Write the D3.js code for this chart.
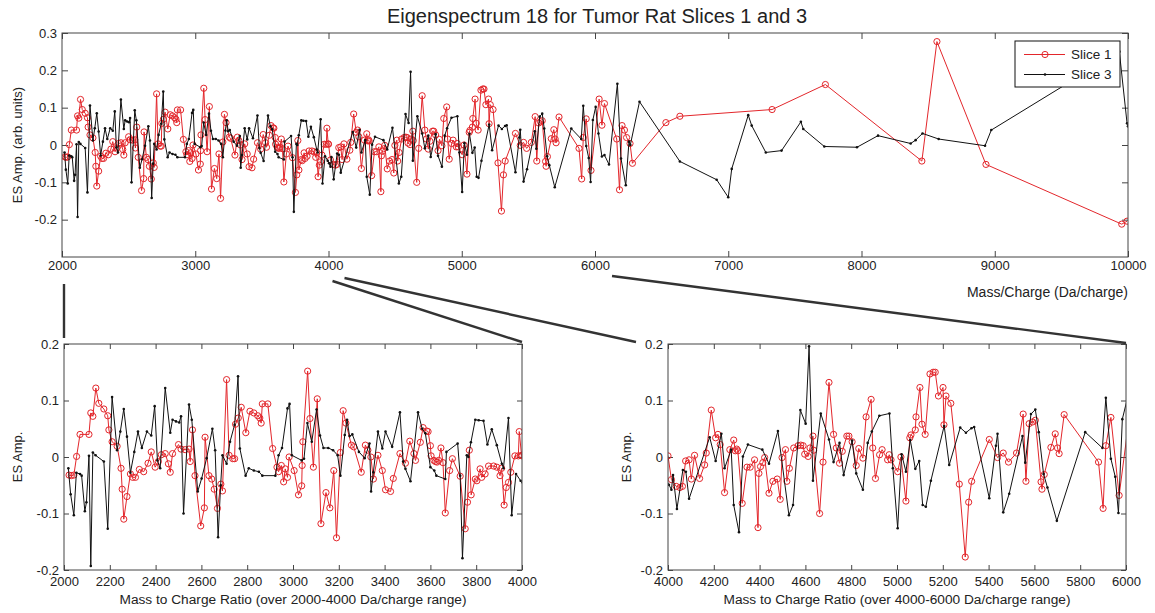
<!DOCTYPE html>
<html>
<head>
<meta charset="utf-8">
<script src="https://cdn.jsdelivr.net/npm/d3@7"></script>
<style>
  body { margin: 0; background: #fff; }
  text { font-family: Arial, "Liberation Sans", Helvetica, sans-serif; fill: #222; }
  .tick line { stroke: #444; }
</style>
</head>
<body>
<div id="chart"></div>
<script>
// Slice 1 (red, circles)
const slice1Mz = [2022,2032,2043,2055,2070,2109,2117,2126,2139,2152,2174,2191,2196,2210,2232,2249,2254,2261,2275,2290,
  2300,2312,2329,2348,2367,2381,2398,2412,2425,2442,2456,2464,2474,2500,2511,2529,2546,2551,2561,2572,
  2597,2613,2616,2633,2645,2656,2670,2685,2692,2710,2721,2737,2745,2749,2761,2774,2794,2812,2829,2846,
  2855,2861,2866,2890,2911,2930,2937,2949,2959,2966,2976,2983,3005,3024,3038,3040,3043,3064,3074,3089,
  3106,3122,3144,3161,3178,3190,3207,3219,3231,3255,3265,3298,3316,3327,3340,3351,3371,3390,3404,3426,
  3438,3467,3491,3510,3528,3535,3556,3568,3584,3590,3600,3603,3615,3622,3629,3636,3646,3655,3665,3684,
  3696,3730,3752,3762,3770,3778,3796,3803,3817,3824,3839,3854,3876,3890,3904,3911,3922,3931,3941,3951,
  3969,3984,3988,3998,
  4000,4015,4036,4052,4063,4077,4092,4102,4116,4138,4160,4167,4189,4208,4218,4228,4247,4270,4287,4294,
  4300,4305,4324,4345,4359,4378,4393,4397,4404,4414,4422,4441,4458,4477,4490,4498,4513,4519,4530,4549,
  4568,4580,4590,4597,4612,4620,4633,4636,4662,4677,4703,4723,4735,4749,4761,4781,4790,4804,4822,4833,
  4851,4865,4887,4894,4906,4924,4935,4959,4966,4974,5003,5017,5039,5056,5061,5080,5083,5100,5109,5123,
  5144,5158,5167,5181,5201,5205,5214,5235,5272,5298,5313,5326,5403,5439,5464,5487,5522,5551,5563,5577,
  5592,5604,5629,5633,5643,5672,5691,5701,5708,5730,5880,5900,5912,5934,5970,
  6031,6052,6071,6163,6184,6203,6221,6237,6263,6281,6532,6637,7329,7729,8453,8566,8934,9953,9993];
const slice1Amp = [-0.032,-0.033,-0.032,0.001,0.040,0.040,0.078,0.072,0.122,0.095,0.085,0.073,0.048,0.027,0.019,-0.020,-0.057,-0.110,-0.070,-0.030,
  -0.036,-0.036,-0.022,-0.026,-0.011,0.009,-0.018,-0.008,0.004,0.006,-0.012,-0.027,0.006,0.022,0.014,0.013,0.014,-0.008,0.048,-0.033,
  -0.122,-0.090,0.035,-0.033,-0.039,-0.057,-0.091,-0.048,-0.060,0.137,0.003,-0.003,-0.003,0.058,0.069,0.088,0.043,0.081,0.078,0.073,
  0.069,0.060,0.094,0.094,0.015,-0.018,-0.026,-0.015,-0.044,-0.021,-0.036,0.000,-0.024,-0.067,-0.051,-0.015,0.027,0.152,0.068,-0.018,
  0.103,-0.118,-0.063,-0.090,-0.024,-0.143,0.008,0.082,0.060,0.021,0.018,-0.027,0.021,0.012,0.000,-0.039,0.003,-0.024,-0.058,-0.061,
  -0.038,0.006,-0.011,0.028,0.006,-0.006,0.026,0.052,0.046,0.045,0.020,0.002,-0.006,-0.008,-0.009,-0.006,0.016,-0.010,-0.099,-0.024,
  -0.003,-0.034,-0.127,-0.080,0.012,-0.067,-0.039,-0.042,-0.021,-0.036,-0.030,-0.016,-0.016,-0.018,-0.033,-0.020,-0.085,-0.054,-0.045,-0.027,
  0.002,0.002,0.045,0.003,
  0.002,-0.040,-0.052,-0.054,-0.052,-0.007,-0.005,-0.039,0.003,-0.038,-0.014,0.007,0.083,0.034,0.040,0.022,-0.063,0.013,0.030,0.011,
  0.014,0.011,-0.082,-0.018,-0.018,-0.005,-0.125,-0.029,-0.017,-0.010,-0.001,-0.064,-0.043,-0.039,-0.075,-0.001,0.013,-0.043,-0.020,0.016,
  0.020,0.021,0.020,0.005,0.001,0.016,0.037,0.012,-0.100,-0.009,0.132,0.040,0.016,-0.011,0.010,0.037,0.037,0.027,-0.015,0.015,
  -0.002,0.071,0.102,0.016,-0.038,0.004,0.013,-0.005,0.004,-0.005,-0.026,0.000,-0.078,0.034,0.039,0.048,0.071,0.123,0.058,0.040,
  0.147,0.150,0.150,0.108,0.123,0.057,0.108,0.095,-0.048,-0.177,-0.080,-0.043,0.031,-0.001,0.007,-0.009,0.007,0.076,-0.043,0.059,
  0.062,0.065,-0.044,-0.057,-0.031,0.017,0.041,0.016,0.006,0.075,-0.009,-0.091,0.020,0.070,-0.068,
  0.123,0.053,0.111,0.016,-0.120,0.052,0.040,0.020,0.004,-0.049,0.060,0.077,0.095,0.162,-0.043,0.277,-0.052,-0.212,-0.204];

// Slice 3 (black, dots)
const slice3Mz = [2019,2029,2043,2054,2070,2077,2091,2098,2109,2117,2126,2138,2174,2191,2210,2232,2246,2261,2275,2290,
  2307,2323,2340,2362,2381,2396,2408,2420,2442,2464,2474,2489,2503,2511,2522,2546,2558,2584,2601,2623,
  2648,2660,2673,2684,2692,2710,2725,2745,2760,2768,2793,2807,2829,2851,2866,2923,2937,2952,2976,2985,
  2995,3038,3048,3063,3082,3103,3118,3133,3154,3175,3195,3207,3226,3236,3247,3259,3288,3313,3334,3341,
  3351,3371,3390,3404,3433,3467,3481,3491,3513,3546,3564,3578,3600,3617,3626,3665,3670,3719,3730,3740,
  3759,3766,3777,3796,3811,3832,3849,3868,3890,3912,3919,3941,3955,3974,3994,
  4004,4015,4022,4039,4065,4078,4092,4182,4208,4233,4247,4276,4287,4310,4327,4349,4412,4441,4480,4528,
  4546,4578,4601,4616,4633,4667,4703,4723,4749,4767,4804,4822,4851,4872,4890,4923,4967,4982,5003,5020,
  5039,5058,5080,5097,5112,5126,5148,5206,5228,5276,5301,5325,5337,5403,5432,5439,5464,5490,5548,5560,
  5585,5604,5619,5640,5657,5698,5822,5897,5912,5934,5953,5967,5984,
  6005,6026,6052,6071,6105,6168,6195,6231,6255,6265,6334,6637,6913,7000,7026,7150,7176,7282,7400,7545,
  7563,7721,7966,8124,8369,8406,8458,8579,8927,8974,9935,9993,10000];
const slice3Amp = [-0.020,-0.066,-0.103,-0.028,-0.030,-0.033,-0.096,-0.080,0.002,-0.193,0.008,0.003,-0.008,-0.127,0.106,0.012,0.045,0.085,0.036,-0.028,
  0.009,0.045,0.016,0.045,0.038,0.090,-0.006,-0.020,0.122,0.043,0.066,0.063,0.061,0.072,-0.100,0.093,0.066,-0.061,-0.038,-0.002,
  0.050,0.012,-0.142,-0.050,0.003,-0.012,0.027,0.057,0.143,0.015,-0.033,-0.020,-0.024,-0.026,-0.033,-0.033,0.003,0.016,0.086,0.094,
  0.003,-0.006,-0.003,0.060,0.027,0.084,0.038,0.016,0.016,0.012,0.003,-0.033,0.039,0.066,0.037,0.040,0.009,-0.002,0.024,-0.061,
  -0.027,0.045,0.015,0.045,0.018,0.079,-0.008,-0.021,-0.043,0.079,0.050,0.042,-0.018,-0.024,-0.033,-0.039,0.009,0.024,-0.033,-0.179,
  0.003,0.000,0.026,0.066,0.065,0.064,0.022,0.049,0.021,-0.012,-0.020,0.069,-0.103,-0.030,-0.042,
  -0.049,-0.058,-0.032,-0.092,-0.023,-0.026,-0.074,0.035,-0.007,0.041,-0.020,0.013,-0.085,-0.133,0.001,0.022,0.013,-0.012,0.046,-0.103,
  -0.085,0.083,0.059,0.196,-0.042,0.077,0.031,-0.009,0.025,-0.032,0.029,-0.029,-0.058,0.025,0.045,0.073,0.077,-0.020,-0.126,0.005,
  -0.026,0.030,-0.021,-0.007,-0.085,-0.088,-0.042,0.055,-0.014,0.052,0.043,0.051,0.053,-0.073,0.020,0.041,-0.098,-0.065,0.037,-0.010,
  0.076,0.084,0.044,-0.030,-0.054,-0.113,0.044,0.016,0.105,-0.003,-0.035,-0.099,0.067,
  0.102,0.031,-0.031,-0.027,-0.052,0.164,-0.036,-0.108,0.009,0.000,0.116,-0.044,-0.093,-0.140,-0.064,0.080,0.052,-0.020,-0.015,0.062,
  0.043,-0.004,-0.006,0.025,0.004,0.013,0.031,0.016,-0.002,0.040,0.250,0.058,0.050];

const topXTicks = [2000, 3000, 4000, 5000, 6000, 7000, 8000, 9000, 10000];
const topYTicks = [0.3, 0.2, 0.1, 0, -0.1, -0.2];
const leftXTicks = [2000, 2200, 2400, 2600, 2800, 3000, 3200, 3400, 3600, 3800, 4000];
const rightXTicks = [4000, 4200, 4400, 4600, 4800, 5000, 5200, 5400, 5600, 5800, 6000];
const zoomYTicks = [0.2, 0.1, 0, -0.1, -0.2];
const seriesNames = ['Slice 1', 'Slice 3'];

const width = 1155, height = 613;
const redColor = '#e3262b';
const blackColor = '#111';

let svg = d3.select('#chart').append('svg')
  .attr('width', width)
  .attr('height', height);

let series = [
  { name: seriesNames[0], mz: slice1Mz, amp: slice1Amp, color: redColor, marker: 'circle' },
  { name: seriesNames[1], mz: slice3Mz, amp: slice3Amp, color: blackColor, marker: 'dot' }
];

function drawPanel(cfg) {
  let x = d3.scaleLinear().domain(cfg.xDomain).range([cfg.left, cfg.right]);
  let y = d3.scaleLinear().domain(cfg.yDomain).range([cfg.bottom, cfg.top]);
  let g = svg.append('g').attr('class', `panel-${cfg.id}`);

  g.append('clipPath').attr('id', `clip-${cfg.id}`)
    .append('rect')
    .attr('x', cfg.left).attr('y', cfg.top)
    .attr('width', cfg.right - cfg.left).attr('height', cfg.bottom - cfg.top);

  let fmt = d => String(d);

  // axes, matlab style: ticks inside, mirrored on top/right
  let bottomAxis = g.append('g').attr('transform', `translate(0,${cfg.bottom})`)
    .call(d3.axisBottom(x).tickValues(cfg.xTicks).tickSize(-cfg.tick).tickSizeOuter(0).tickPadding(cfg.xPad).tickFormat(fmt));
  g.append('g').attr('transform', `translate(0,${cfg.top})`)
    .call(d3.axisTop(x).tickValues(cfg.xTicks).tickSize(-cfg.tick).tickSizeOuter(0).tickFormat(''));
  g.append('g').attr('transform', `translate(${cfg.left},0)`)
    .call(d3.axisLeft(y).tickValues(cfg.yTicks).tickSize(-cfg.tick).tickSizeOuter(0).tickPadding(5).tickFormat(fmt));
  g.append('g').attr('transform', `translate(${cfg.right},0)`)
    .call(d3.axisRight(y).tickValues(cfg.yTicks).tickSize(-cfg.tick).tickSizeOuter(0).tickFormat(''));
  g.selectAll('.domain').remove();
  g.selectAll('.tick text').attr('font-size', cfg.tickFont).attr('fill', '#222');
  bottomAxis.selectAll('.tick text').attr('dy', '0.55em');

  let plot = g.append('g').attr('clip-path', `url(#clip-${cfg.id})`);
  let line = d3.line().x(d => x(d[0])).y(d => y(d[1]));

  series.forEach(s => {
    let pts = s.mz.map((m, i) => [m, s.amp[i]]);
    plot.append('path')
      .datum(pts)
      .attr('fill', 'none')
      .attr('stroke', s.color)
      .attr('stroke-width', 1)
      .attr('d', line);
    let inside = pts.filter(p => p[0] >= cfg.xDomain[0] && p[0] <= cfg.xDomain[1]);
    if (s.marker === 'circle') {
      plot.selectAll(null).data(inside).enter().append('circle')
        .attr('cx', d => x(d[0])).attr('cy', d => y(d[1]))
        .attr('r', 3.1)
        .attr('fill', 'none')
        .attr('stroke', s.color)
        .attr('stroke-width', 1);
    } else {
      plot.selectAll(null).data(inside).enter().append('circle')
        .attr('cx', d => x(d[0])).attr('cy', d => y(d[1]))
        .attr('r', 1.3)
        .attr('fill', s.color);
    }
  });

  g.append('rect')
    .attr('x', cfg.left).attr('y', cfg.top)
    .attr('width', cfg.right - cfg.left).attr('height', cfg.bottom - cfg.top)
    .attr('fill', 'none')
    .attr('stroke', '#444')
    .attr('stroke-width', 1);

  return { x, y, g };
}

let topPanel = drawPanel({
  id: 'top', xDomain: [2000, 10000], yDomain: [-0.3, 0.3],
  left: 62, right: 1128, top: 33, bottom: 257,
  xTicks: topXTicks, yTicks: topYTicks, tick: 6, tickFont: '13px', xPad: 6
});
let leftPanel = drawPanel({
  id: 'left', xDomain: [2000, 4000], yDomain: [-0.2, 0.2],
  left: 64, right: 522, top: 344, bottom: 570,
  xTicks: leftXTicks, yTicks: zoomYTicks, tick: 5, tickFont: '13px', xPad: 9
});
let rightPanel = drawPanel({
  id: 'right', xDomain: [4000, 6000], yDomain: [-0.2, 0.2],
  left: 668, right: 1126, top: 344, bottom: 570,
  xTicks: rightXTicks, yTicks: zoomYTicks, tick: 5, tickFont: '13px', xPad: 9
});

// title and axis labels
svg.append('text')
  .attr('x', 597).attr('y', 23)
  .attr('text-anchor', 'middle')
  .attr('font-size', '20px')
  .text('Eigenspectrum 18 for Tumor Rat Slices 1 and 3');

svg.append('text')
  .attr('x', 1128).attr('y', 297)
  .attr('text-anchor', 'end')
  .attr('font-size', '14px')
  .text('Mass/Charge (Da/charge)');

svg.append('text')
  .attr('transform', 'translate(22,145) rotate(-90)')
  .attr('text-anchor', 'middle')
  .attr('font-size', '13px')
  .text('ES Amp. (arb. units)');

svg.append('text')
  .attr('transform', 'translate(22,457) rotate(-90)')
  .attr('text-anchor', 'middle')
  .attr('font-size', '13px')
  .text('ES Amp.');

svg.append('text')
  .attr('transform', 'translate(631,457) rotate(-90)')
  .attr('text-anchor', 'middle')
  .attr('font-size', '13px')
  .text('ES Amp.');

svg.append('text')
  .attr('x', (leftPanel.x.range()[0] + leftPanel.x.range()[1]) / 2).attr('y', 604)
  .attr('text-anchor', 'middle')
  .attr('font-size', '13.7px')
  .text('Mass to Charge Ratio (over 2000-4000 Da/charge range)');

svg.append('text')
  .attr('x', (rightPanel.x.range()[0] + rightPanel.x.range()[1]) / 2).attr('y', 604)
  .attr('text-anchor', 'middle')
  .attr('font-size', '13.7px')
  .text('Mass to Charge Ratio (over 4000-6000 Da/charge range)');

// zoom connector lines from the top axis to the lower panels
let connectors = [
  [[topPanel.x(2000) + 2, 284], [leftPanel.x(2000), 338]],
  [[topPanel.x(4000) + 4, 281], [leftPanel.x(4000), 342]],
  [[topPanel.x(4000) + 16, 278], [rightPanel.x(4000) - 32, 342]],
  [[topPanel.x(6000) + 17, 276], [rightPanel.x(6000), 343]]
];
svg.append('g').selectAll('line').data(connectors).enter().append('line')
  .attr('x1', d => d[0][0]).attr('y1', d => d[0][1])
  .attr('x2', d => d[1][0]).attr('y2', d => d[1][1])
  .attr('stroke', '#333')
  .attr('stroke-width', 2.4);

// legend
let legend = svg.append('g').attr('transform', 'translate(1015,41)');
legend.append('rect')
  .attr('width', 105).attr('height', 46)
  .attr('fill', '#fff')
  .attr('stroke', '#111')
  .attr('stroke-width', 1);
series.forEach((s, i) => {
  let row = legend.append('g').attr('transform', `translate(0,${13.5 + i * 20})`);
  row.append('line')
    .attr('x1', 9).attr('x2', 50)
    .attr('stroke', s.color).attr('stroke-width', 1);
  if (s.marker === 'circle') {
    row.append('circle').attr('cx', 30).attr('r', 3.1)
      .attr('fill', 'none').attr('stroke', s.color).attr('stroke-width', 1);
  } else {
    row.append('circle').attr('cx', 30).attr('r', 1.3).attr('fill', s.color);
  }
  row.append('text')
    .attr('x', 56).attr('dy', '0.35em')
    .attr('font-size', '13.5px')
    .text(s.name);
});
</script>
</body>
</html>
